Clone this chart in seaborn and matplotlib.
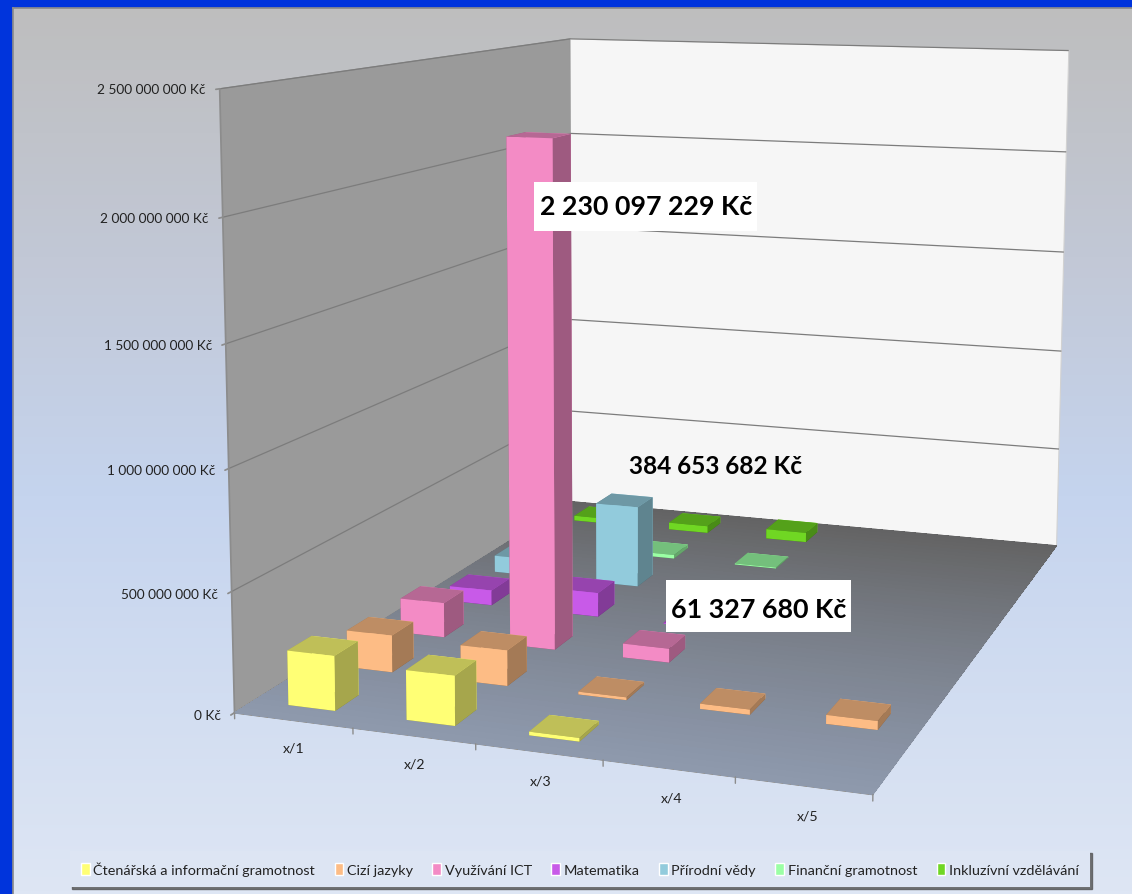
import numpy as np
import matplotlib
matplotlib.use("Agg")
import matplotlib.pyplot as plt
from matplotlib.patches import Rectangle, Patch
from matplotlib.ticker import FuncFormatter
import seaborn as sns

# ---------- data ----------
categories = ["x/1", "x/2", "x/3", "x/4", "x/5"]
series_names = ["Čtenářská a informační gramotnost", "Cizí jazyky", "Využívání ICT",
                "Matematika", "Přírodní vědy", "Finanční gramotnost", "Inkluzívní vzdělávání"]
ctenarska = [228e6, 205e6, 15e6, 0, 0]
jazyky = [160e6, 152e6, 12e6, 22e6, 37e6]
ict = [155e6, 2230097229, 61327680, 0, 0]
matematika = [70e6, 110e6, 4e6, 0, 0]
prirodni = [80e6, 384653682, 4e6, 0, 0]
financni = [0, 18e6, 5e6, 0, 0]
inkluzivni = [25e6, 35e6, 48e6, 0, 0]
series_values = [ctenarska, jazyky, ict, matematika, prirodni, financni, inkluzivni]
series_colors = ["#FFFF75", "#FDBC85", "#F38BC5", "#C85AE8", "#92CBDC", "#9BFFA5", "#70D723"]
z_ticks = [0, 500e6, 1000e6, 1500e6, 2000e6, 2500e6]
callout_values = [2230097229, 384653682, 61327680]
callout_text_xy = [(646, 207), (716, 467), (759, 610)]
callout_sizes = [19.3, 17.6, 19.4]
callout_boxes = [(534, 183, 757, 232), None, (666, 581, 851, 633)]

W, H = 1132, 895
sns.set_theme(style="white")
plt.rcParams["font.family"] = ["Lato", "DejaVu Sans"]
palette = sns.color_palette(series_colors)


def kc(v, _=None):
    return f"{int(round(v)):,}".replace(",", " ") + " Kč"


fig = plt.figure(figsize=(W / 100, H / 100), dpi=100, facecolor="#0034DC")

# ---------- slide-like background ----------
bg = fig.add_axes([13 / W, 0, 1 - 13 / W, 1 - 9 / H], zorder=-2)
stops_y = [0, .28, .55, 1]
stops_c = np.array([[190, 190, 190], [194, 200, 214], [197, 212, 238], [222, 230, 244]]) / 255
t = np.linspace(0, 1, 256)
grad = np.stack([np.interp(t, stops_y, stops_c[:, k]) for k in range(3)], axis=1)[:, None, :]
bg.imshow(grad, aspect="auto", extent=(0, 1, 1, 0))
bg.set_xticks([]); bg.set_yticks([])
for s in bg.spines.values():
    s.set_visible(False)
bg.spines["left"].set_visible(True); bg.spines["top"].set_visible(True)
bg.spines["left"].set_color("#8c8c8c"); bg.spines["top"].set_color("#8c8c8c")

# ---------- 3-D axes with a camera fitted to the chart box ----------
ax = fig.add_axes([0, (H - W) / 2 / H, 1, W / H], projection="3d", computed_zorder=False)
ax.set_facecolor("none")
ax.set_xlim(0, len(categories))
ax.set_ylim(0, len(series_names))
ax.set_zlim(0, z_ticks[-1])
ax.view_init(elev=15, azim=-70)
ax.apply_aspect()

nx, ny, nz = len(categories), len(series_names), z_ticks[-1]
box_world = np.array([[0, 0, 0], [nx, 0, 0], [0, ny, 0], [nx, ny, 0],
                      [0, 0, nz], [0, ny, nz], [nx, ny, nz]], float)
box_pixels = np.array([[235, 714], [872, 796], [572, 503], [1057, 546],
                       [220, 89], [570, 40], [1069, 52]], float)


def fit_camera(world, pixels):
    scale = np.array([1, 1, 1 / nz])
    rows = []
    for (x, y, z), (u, v) in zip(world * scale, pixels):
        v = H - v
        rows.append([x, y, z, 1, 0, 0, 0, 0, -u * x, -u * y, -u * z, -u])
        rows.append([0, 0, 0, 0, x, y, z, 1, -v * x, -v * y, -v * z, -v])
    P = np.linalg.svd(np.array(rows))[2][-1].reshape(3, 4)
    P = P @ np.diag([1, 1, 1 / nz, 1])
    if P[2, 3] < 0:
        P = -P
    P = np.linalg.inv(ax.transData.get_matrix()) @ P
    return np.array([P[0], P[1], [0, 0, 0, -1], P[2]])


M = fit_camera(box_world, box_pixels)
ax.get_proj = lambda: M

# walls
ax.xaxis.set_pane_color("#9A9A9A")
ax.yaxis.set_pane_color("#F6F6F6")
ax.zaxis.set_pane_color("#8E99AD")
for a, ec in ((ax.xaxis, "#8C8C8C"), (ax.yaxis, "#D2D2D2"), (ax.zaxis, "#8C8C8C")):
    a.pane.set_edgecolor(ec)
    a.pane.set_linewidth(0.8)

ax.grid(True)
ax.xaxis._axinfo["grid"]["color"] = (0, 0, 0, 0)
ax.yaxis._axinfo["grid"]["color"] = (0, 0, 0, 0)
ax.zaxis._axinfo["grid"].update(color="#7C7C7C", linewidth=0.9)

# axes and ticks
ax.set_zticks(z_ticks)
ax.zaxis.set_major_formatter(FuncFormatter(lambda v, p: kc(v)))
ax.set_xticks(np.arange(nx) + .5)
ax.set_xticklabels(categories)
ax.set_yticks([])
ax.zaxis.set_ticks_position("lower")
ax.xaxis.line.set_color("#8C8C8C")
ax.zaxis.line.set_color("#8C8C8C")
ax.yaxis.line.set_color((0, 0, 0, 0))
ax.xaxis._axinfo["tick"].update(inward_factor=0, outward_factor=0)
ax.zaxis._axinfo["tick"].update(inward_factor=0, outward_factor=-0.1)
ax.tick_params(axis="x", labelsize=10.2, labelcolor="#222222", color="#8C8C8C", pad=2)
ax.tick_params(axis="z", labelsize=9.8, labelcolor="#222222", color="#8C8C8C", pad=-2.5)
for lab in ax.get_zticklabels():
    lab.set_ha("right")
    lab.set_va("center")
for lab in ax.get_xticklabels():
    lab.set_ha("left")

# floor gradient
fy = np.linspace(0, ny, 61)
FX, FY = np.meshgrid([0, nx], fy)
f_front, f_back = np.array([142, 153, 173]) / 255, np.array([99, 99, 99]) / 255
frac = (.5 * (fy[:-1] + fy[1:]) / ny)[:, None, None]
fc = (f_front[None, None, :] * (1 - frac) + f_back[None, None, :] * frac)
fc = np.concatenate([fc, np.ones((len(frac), 1, 1))], axis=2)
ax.plot_surface(FX, FY, np.zeros_like(FX), facecolors=fc, shade=False, linewidth=0,
                antialiased=False, rstride=1, cstride=1, zorder=1)

# boundary ticks on the category axis
for b in range(nx + 1):
    ax.plot([b, b], [0, 0], [0, -25e6], color="#8C8C8C", lw=1, zorder=2, clip_on=False)

# ---------- bars ----------
BAR = 0.4
for s in range(ny - 1, -1, -1):
    base = np.array(palette[s])
    for c in range(nx - 1, -1, -1):
        v = series_values[s][c]
        if v <= 0:
            continue
        faces = [base * .5, base * .75, base, base, base * .65, base * .65]
        ax.bar3d(c + .5 - BAR / 2, s + .5 - BAR / 2, 0, BAR, BAR, v, color=faces, shade=False,
                 edgecolor="none", zorder=10 + (ny - s) * 10 + (nx - c))

# ---------- call-outs ----------
for val, (tx, ty), size, box in zip(callout_values, callout_text_xy, callout_sizes, callout_boxes):
    if box is not None:
        x0, y0, x1, y1 = box
        fig.add_artist(Rectangle((x0 / W, 1 - y1 / H), (x1 - x0) / W, (y1 - y0) / H,
                                 transform=fig.transFigure, facecolor="white",
                                 edgecolor="none", zorder=4))
    fig.text(tx / W, 1 - ty / H, kc(val), ha="center", va="center", fontsize=size,
             fontweight="bold", color="black", zorder=5)

# ---------- legend ----------
handles = [Patch(facecolor=palette[i], label=series_names[i]) for i in range(ny)]
leg = fig.legend(handles=handles, ncol=ny, loc="center", bbox_to_anchor=(580 / W, 1 - 870 / H),
                 fontsize=10.4, frameon=True, fancybox=False,
                 shadow={"ox": 1.5, "oy": -1.5, "color": "#555555", "alpha": .8},
                 facecolor="#DDE5F3", edgecolor="none", framealpha=1, handlelength=.6,
                 handleheight=.9, handletextpad=.25, columnspacing=1.35, borderpad=.75,
                 labelcolor="#222222")

fig.savefig("out.png", dpi=100)
